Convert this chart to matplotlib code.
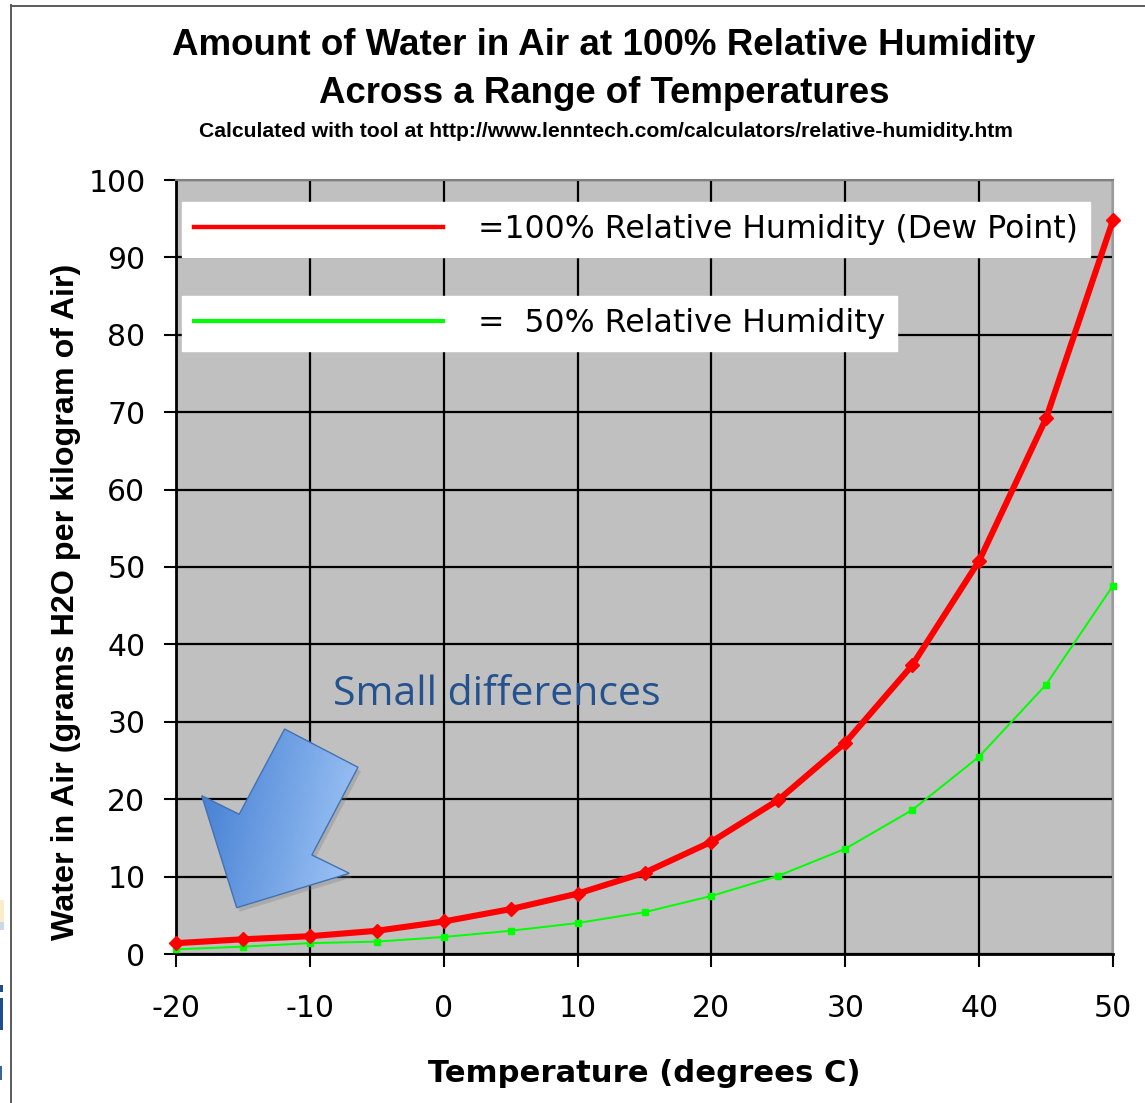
import numpy as np
import matplotlib
matplotlib.use("Agg")
import matplotlib.pyplot as plt
from matplotlib.patches import Polygon, Rectangle
from matplotlib.lines import Line2D
from matplotlib.colors import LinearSegmentedColormap

plt.rcParams['font.family'] = ['DejaVu Sans']
plt.rcParams['axes.unicode_minus'] = False

# datos (g de H2O por kg de aire)
temperaturas = [-20, -15, -10, -5, 0, 5, 10, 15, 20, 25, 30, 35, 40, 45, 50]
humedad_100 = [1.4, 1.9, 2.3, 3.0, 4.2, 5.8, 7.8, 10.5, 14.5, 19.9, 27.3, 37.3, 50.8, 69.2, 94.8]
humedad_50 = [0.6, 0.95, 1.4, 1.6, 2.2, 3.0, 4.0, 5.4, 7.5, 10.1, 13.6, 18.6, 25.5, 34.8, 47.6]

xticks = [-20, -10, 0, 10, 20, 30, 40, 50]
yticks = [0, 10, 20, 30, 40, 50, 60, 70, 80, 90, 100]

etiqueta_100 = "=100% Relative Humidity (Dew Point)"
etiqueta_50 = "=  50% Relative Humidity"

W, H = 1145, 1103
fig = plt.figure(figsize=(W / 100, H / 100), dpi=100)
fig.patch.set_facecolor('white')


def px(x, y):
    # pixeles de la imagen -> fraccion de figura
    return x / W, 1 - y / H


ax = fig.add_axes([176 / W, 1 - 954 / H, (1113 - 176) / W, (954 - 180) / H])
ax.set_facecolor('#c0c0c0')
ax.set_xlim(-20, 50)
ax.set_ylim(0, 100)
ax.set_xticks(xticks)
ax.set_yticks(yticks)
ax.grid(True, color='black', lw=1.6)
ax.set_axisbelow(True)
ax.tick_params(axis='both', direction='out', length=9, width=1.5,
               labelsize=21.5, colors='black')
ax.tick_params(axis='y', pad=13)
ax.tick_params(axis='x', pad=20)
for s in ('left', 'bottom'):
    ax.spines[s].set_color('black')
    ax.spines[s].set_linewidth(2)
ax.spines['top'].set_color('#808080')
ax.spines['top'].set_linewidth(1.5)
ax.spines['right'].set_color('#9a9a9a')
ax.spines['right'].set_linewidth(1.5)

l100, = ax.plot(temperaturas, humedad_100, color='#ff0000', lw=4.4,
                marker='D', ms=7, mfc='#ff0000', mec='#ff0000', zorder=4,
                clip_on=False)
l50, = ax.plot(temperaturas, humedad_50, color='#00ff00', lw=1.4,
               marker='s', ms=4.5, mfc='#00ff00', mec='#00ff00', zorder=3,
               clip_on=False)

# dos cajas de leyenda separadas
leg1 = ax.legend([l100], [etiqueta_100], loc='upper left',
                 bbox_to_anchor=px(182, 202), bbox_transform=fig.transFigure,
                 borderaxespad=0, fontsize=22.7, frameon=True, fancybox=False,
                 framealpha=1, facecolor='white', edgecolor='white',
                 handlelength=7.9, handletextpad=1.1, borderpad=0.38)
leg1.get_lines()[0].set_marker('None')
leg1.get_lines()[0].set_linewidth(3.2)
ax.add_artist(leg1)
leg2 = ax.legend([l50], [etiqueta_50], loc='upper left',
                 bbox_to_anchor=px(182, 296), bbox_transform=fig.transFigure,
                 borderaxespad=0, fontsize=22.7, frameon=True, fancybox=False,
                 framealpha=1, facecolor='white', edgecolor='white',
                 handlelength=7.9, handletextpad=1.1, borderpad=0.38)
leg2.get_lines()[0].set_marker('None')
leg2.get_lines()[0].set_linewidth(3.0)

# titulos
renderer = fig.canvas.get_renderer()


def ajustar(t, largo, vertical=False):
    bb = t.get_window_extent(renderer)
    actual = bb.height if vertical else bb.width
    t.set_fontsize(t.get_fontsize() * largo / actual)


t1 = fig.text(*px(604, 55), "Amount of Water in Air at 100% Relative Humidity",
              ha='center', va='baseline', fontsize=22, fontweight='bold',
              family='Liberation Sans')
t2 = fig.text(*px(604, 103), "Across a Range of Temperatures",
              ha='center', va='baseline', fontsize=22, fontweight='bold',
              family='Liberation Sans')
t3 = fig.text(*px(606, 137),
              "Calculated with tool at http://www.lenntech.com/calculators/relative-humidity.htm",
              ha='center', va='baseline', fontsize=12, fontweight='bold',
              family='Liberation Sans')
ajustar(t1, 862)
ajustar(t2, 572)
ajustar(t3, 812)

ty = fig.text(*px(66, 602), "Water in Air (grams H2O per kilogram of Air)",
              ha='center', va='center', rotation=90, fontsize=20,
              fontweight='bold', family='Liberation Sans')
ajustar(ty, 675, vertical=True)
tx = fig.text(*px(644, 1073), "Temperature (degrees C)", ha='center',
              va='center', fontsize=21, fontweight='bold')
ajustar(tx, 432)

# capa superior en pixeles: flecha, texto y bordes
ov = fig.add_axes([0, 0, 1, 1])
ov.set_axis_off()
ov.patch.set_alpha(0)

flecha = [(236.7, 907.7), (201.7, 795.7), (239.2, 814.3), (284.6, 729),
          (358, 767.3), (311.9, 855), (349.3, 873.3)]
sombra = Polygon([(x + 3, y + 4) for x, y in flecha], closed=True,
                 fc='#7a7a7a', ec='none', alpha=0.3, zorder=0.5)
ov.add_patch(sombra)
gx, gy = np.meshgrid(np.linspace(0, 1, 200), np.linspace(0, 1, 200))
grad = 0.8 * gx + 0.2 * gy
cmap = LinearSegmentedColormap.from_list('azul', ['#3f7bd0', '#a6caf9'])
im = ov.imshow(grad, cmap=cmap, extent=(200, 360, 910, 727), origin='upper',
               aspect='auto', interpolation='bilinear', zorder=2)
poly = Polygon(flecha, closed=True, fc='none', ec='#4272b4', lw=1, zorder=3)
ov.add_patch(poly)
im.set_clip_path(poly)

ov.text(497, 705, "Small differences", color='#24528f', fontsize=29.5,
        family='Open Sans', ha='center', va='baseline', zorder=4)

# borde de la diapositiva y restos a la izquierda
ov.add_line(Line2D([11, 11], [5, 1103], color='#5a5a5a', lw=1.4))
ov.add_line(Line2D([11, 1145], [5.5, 5.5], color='#5a5a5a', lw=1.4))
ov.add_patch(Rectangle((0, 900), 4, 22, fc='#fbeccb', ec='none'))
ov.add_patch(Rectangle((0, 922), 4, 8, fc='#c9d9ec', ec='none'))
ov.add_patch(Rectangle((0, 985), 3, 7, fc='#1f4e8c', ec='none'))
ov.add_patch(Rectangle((0, 998), 3, 32, fc='#1f4e8c', ec='none'))
ov.add_patch(Rectangle((0, 1066), 2, 14, fc='#3a66a0', ec='none'))

ov.set_xlim(0, W)
ov.set_ylim(H, 0)

fig.savefig('out.png', dpi=100)
